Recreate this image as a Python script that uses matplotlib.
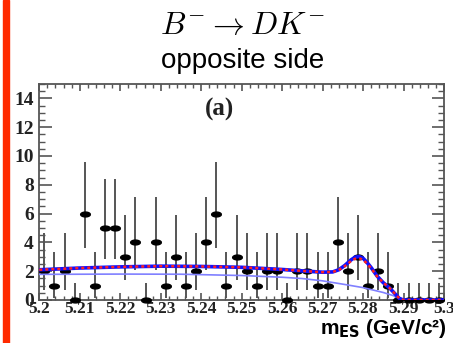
import numpy as np
import matplotlib
matplotlib.use('Agg')
import matplotlib.pyplot as plt
from matplotlib.patches import Rectangle
from matplotlib.ticker import MultipleLocator

# bin centres (0.0025 GeV bins) and counts
bin_lo = 5.2
bin_w = 0.0025
counts = [2, 1, 2, 0, 6, 1, 5, 5, 3, 4, 0, 4, 1, 3, 1, 2, 4, 6, 1,
          3, 2, 1, 2, 2, 0, 2, 2, 1, 1, 4, 2, 3, 1, 2, 1,
          0, 0, 0, 0, 0]

# 68% Poisson intervals used for the error bars (lower, upper)
poisson_int = {0: (0.0, 1.15), 1: (0.17, 3.30), 2: (0.71, 4.64),
               3: (1.37, 5.92), 4: (2.09, 7.16), 5: (2.84, 8.38),
               6: (3.62, 9.58)}

# fit curves
fit_x = [5.200, 5.210, 5.220, 5.230, 5.240, 5.250, 5.260, 5.265, 5.270,
         5.2725, 5.2740, 5.2755, 5.2770, 5.2780, 5.2790, 5.2800, 5.2810,
         5.2820, 5.2835, 5.2850, 5.2865, 5.2880, 5.2890, 5.2900, 5.3000]
fit_total = [2.10, 2.22, 2.30, 2.35, 2.33, 2.27, 2.12, 2.02, 1.93,
             1.95, 2.10, 2.40, 2.78, 2.97, 3.02, 2.90, 2.60,
             2.25, 1.65, 1.20, 0.85, 0.40, 0.10, 0.0, 0.0]
fit_red = [2.10, 2.22, 2.30, 2.35, 2.33, 2.27, 2.12, 2.02, 1.93,
           1.95, 2.08, 2.35, 2.70, 2.86, 2.90, 2.80, 2.52,
           2.20, 1.63, 1.20, 0.85, 0.40, 0.10, 0.0, 0.0]
bkg_x = [5.200, 5.220, 5.235, 5.250, 5.260, 5.265, 5.270, 5.275, 5.280,
         5.285, 5.2875, 5.289, 5.290, 5.300]
bkg_y = [1.78, 1.80, 1.79, 1.70, 1.58, 1.49, 1.33, 1.10, 0.86,
         0.52, 0.30, 0.10, 0.0, 0.0]

xtick_vals = [5.20, 5.21, 5.22, 5.23, 5.24, 5.25, 5.26, 5.27, 5.28, 5.29, 5.30]
xtick_labels = ['5.2', '5.21', '5.22', '5.23', '5.24', '5.25', '5.26',
                '5.27', '5.28', '5.29', '5.3']
ytick_vals = [0, 2, 4, 6, 8, 10, 12, 14]


def main():
    plt.rcParams['mathtext.fontset'] = 'cm'
    fig = plt.figure(figsize=(4.53, 3.43), dpi=100)
    fig.patch.set_facecolor('white')

    # red stripe on the left edge of the slide
    fig.patches.append(Rectangle((3 / 453, 0), 6 / 453, 1, transform=fig.transFigure,
                                 color='#ff2a00', zorder=0))

    fig.text(0.535, 0.925, r'$B^{-} \to DK^{-}$', ha='center', va='center',
             fontsize=23)
    fig.text(0.535, 0.822, 'opposite side', ha='center', va='center',
             fontsize=20, family='Liberation Sans')

    ax = fig.add_axes([39.3 / 453, 1 - 300 / 343, (444 - 39.3) / 453, 216 / 343])

    x = bin_lo + bin_w * (np.arange(len(counts)) + 0.5)
    y = np.array(counts, dtype=float)
    lo = np.array([c - poisson_int[c][0] for c in counts])
    hi = np.array([poisson_int[c][1] - c for c in counts])

    ax.errorbar(x, y, yerr=[lo, hi], fmt='none', ecolor='#555555', elinewidth=1.4,
                capsize=0, zorder=2)
    # elongated black markers
    t = np.linspace(0, 2 * np.pi, 30)
    ell = list(zip(2.0 * np.cos(t), np.sin(t)))
    ax.plot(x, y, linestyle='none', marker=ell, markersize=7, color='black',
            zorder=3, clip_on=False)

    ax.plot(bkg_x, bkg_y, color='#8080ff', lw=1.2, zorder=4)
    ax.plot(fit_x, fit_total, color='#1010ff', lw=2.6, zorder=5)
    ax.plot(fit_x, fit_red, color='#ff2020', lw=1.8, linestyle=(0, (1.2, 1.2)),
            zorder=6)

    ax.set_xlim(5.2, 5.3)
    ax.set_ylim(0, 15)
    ax.set_xticks(xtick_vals)
    ax.set_xticklabels(xtick_labels)
    ax.set_yticks(ytick_vals)
    ax.xaxis.set_minor_locator(MultipleLocator(0.002))
    ax.yaxis.set_minor_locator(MultipleLocator(0.5))

    ax.tick_params(which='both', direction='in', top=True, right=True,
                   color='#555555')
    ax.tick_params(axis='y', which='major', length=9, width=1.2, pad=4)
    ax.tick_params(axis='y', which='minor', length=4, width=1.0)
    ax.tick_params(axis='x', which='major', length=5, width=1.2, pad=0.5)
    ax.tick_params(axis='x', which='minor', length=3, width=1.0)
    for lab in ax.get_xticklabels():
        lab.set_fontsize(12.5)
    for lab in ax.get_yticklabels():
        lab.set_fontsize(14)
    for lab in ax.get_xticklabels() + ax.get_yticklabels():
        lab.set_family('Liberation Serif')
        lab.set_fontweight('bold')
        lab.set_color('#222222')
    for sp in ax.spines.values():
        sp.set_color('#555555')
        sp.set_linewidth(1.3)

    ax.text(5.2445, 13.2, '(a)', ha='center', va='center', fontsize=18,
            fontweight='bold', family='Liberation Serif', color='#222222')

    fig.text(447 / 453, 1 - 334 / 343, r'm$_{\mathbf{ES}}$ (GeV/c²)',
             ha='right', va='baseline', fontsize=15, fontweight='bold',
             family='Liberation Sans', math_fontfamily='dejavusans')

    fig.savefig('out.png', dpi=100)


if __name__ == '__main__':
    main()
